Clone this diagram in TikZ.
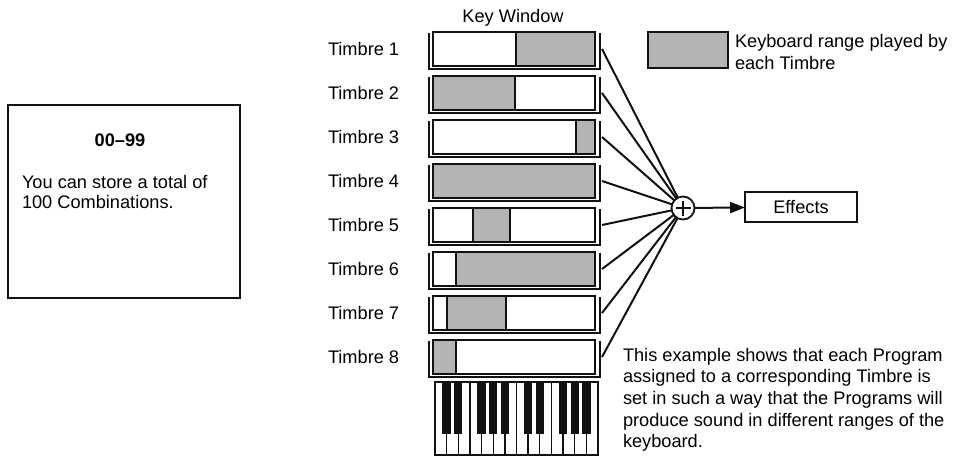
\documentclass[tikz,border=0pt]{standalone}
\usepackage{fontspec}
\setmainfont{Liberation Sans}
\usetikzlibrary{arrows.meta, positioning}

\definecolor{rangegray}{HTML}{B4B4B4}
\definecolor{inkblack}{HTML}{111111}

\tikzset{
  keybar/.style={draw=inkblack, line width=2pt, minimum width=162pt,
    minimum height=34pt, inner sep=0pt, anchor=north west},
  traybar/.style={draw=inkblack, line width=1.4pt},
  wire/.style={draw=inkblack, line width=2pt},
  textblock/.style={anchor=north west, align=left, inner sep=0pt}
}

\begin{document}
\begin{tikzpicture}[x=1pt, y=-1pt, font=\fontsize{18.2}{21.7}\selectfont,
  every node/.style={outer sep=0pt}]
\useasboundingbox (0,0) rectangle (956,458);

\def\xL{433}
\def\xR{595}
\def\H{34}
\def\P{44}
\def\kw{11.643}

% Combination memory box
\node[draw=inkblack, line width=1.4pt, minimum width=232pt, minimum height=193pt,
  anchor=north west, inner sep=0pt] (combo) at (8,105) {};
\node[font=\bfseries\fontsize{18.2}{20}\selectfont] (comborange) at (120,140) {00--99};
\node[textblock, font=\fontsize{18.2}{20}\selectfont] (combotext) at (22,175)
  {You can store a total of\\100 Combinations.};

% Key window title
\node (keywin) at (513,18) {Key Window};

% Mixer and effects
\node[circle, draw=inkblack, line width=1.8pt, minimum size=23pt, inner sep=0pt]
  (sum) at (683,208) {};
\draw[inkblack, line width=1.6pt] ([xshift=-7.5pt]sum.center) -- ([xshift=7.5pt]sum.center);
\draw[inkblack, line width=1.6pt] ([yshift=-7.5pt]sum.center) -- ([yshift=7.5pt]sum.center);
\node[draw=inkblack, line width=1.6pt, minimum width=112pt, minimum height=30pt]
  (fx) at (801,207) {Effects};
\draw[wire, -{Triangle[length=15pt, width=11pt]}] (sum) -- (fx);

% Timbre bars with their key ranges
\foreach \i/\a/\b in {1/516/595, 2/433/515, 3/576/595, 4/433/595,
                      5/473/510, 6/456/595, 7/447/506, 8/433/456}{
  \pgfmathsetmacro{\yT}{32+(\i-1)*\P}
  \pgfmathsetmacro{\yM}{\yT+\H/2}
  \pgfmathsetmacro{\yB}{\yT+\H+3}
  \fill[rangegray] (\a,\yT) rectangle (\b,\yT+\H);
  \draw[inkblack, line width=1.6pt] (\a,\yT) -- (\a,\yT+\H) (\b,\yT) -- (\b,\yT+\H);
  \node[keybar] (bar\i) at (\xL,\yT) {};
  \draw[traybar] (\xL-4,\yT+1) |- (\xR+5,\yB) -- (\xR+5,\yT+1);
  \node[anchor=west, inner sep=0pt] (name\i) at (328,\yM) {Timbre \i};
  \coordinate (out\i) at (\xR+7,\yM);
  \draw[wire] (out\i) -- (sum);
}

% Keyboard
\node[draw=inkblack, line width=1.8pt, minimum width=163pt, minimum height=73pt,
  anchor=north west, inner sep=0pt] (keys) at (435,382) {};
\foreach \k in {1,...,13}{
  \draw[inkblack, line width=1.3pt] (435+\k*\kw,382) -- (435+\k*\kw,455);
}
\foreach \k in {1,2,4,5,6,8,9,11,12,13}{
  \fill[inkblack] (435+\k*\kw-4.2,382) rectangle (435+\k*\kw+4.2,434);
}

% Legend
\node[draw=inkblack, fill=rangegray, line width=2pt, minimum width=80pt,
  minimum height=36pt, anchor=north west, inner sep=0pt] (legend) at (648,32) {};
\node[textblock, font=\fontsize{18.2}{22}\selectfont] (legendtext) at (735,34)
  {Keyboard range played by\\each Timbre};

% Explanation
\node[textblock] (note) at (623,348)
  {This example shows that each Program\\assigned to a corresponding Timbre is\\set in such a way that the Programs will\\produce sound in different ranges of the\\keyboard.};

\end{tikzpicture}
\end{document}
